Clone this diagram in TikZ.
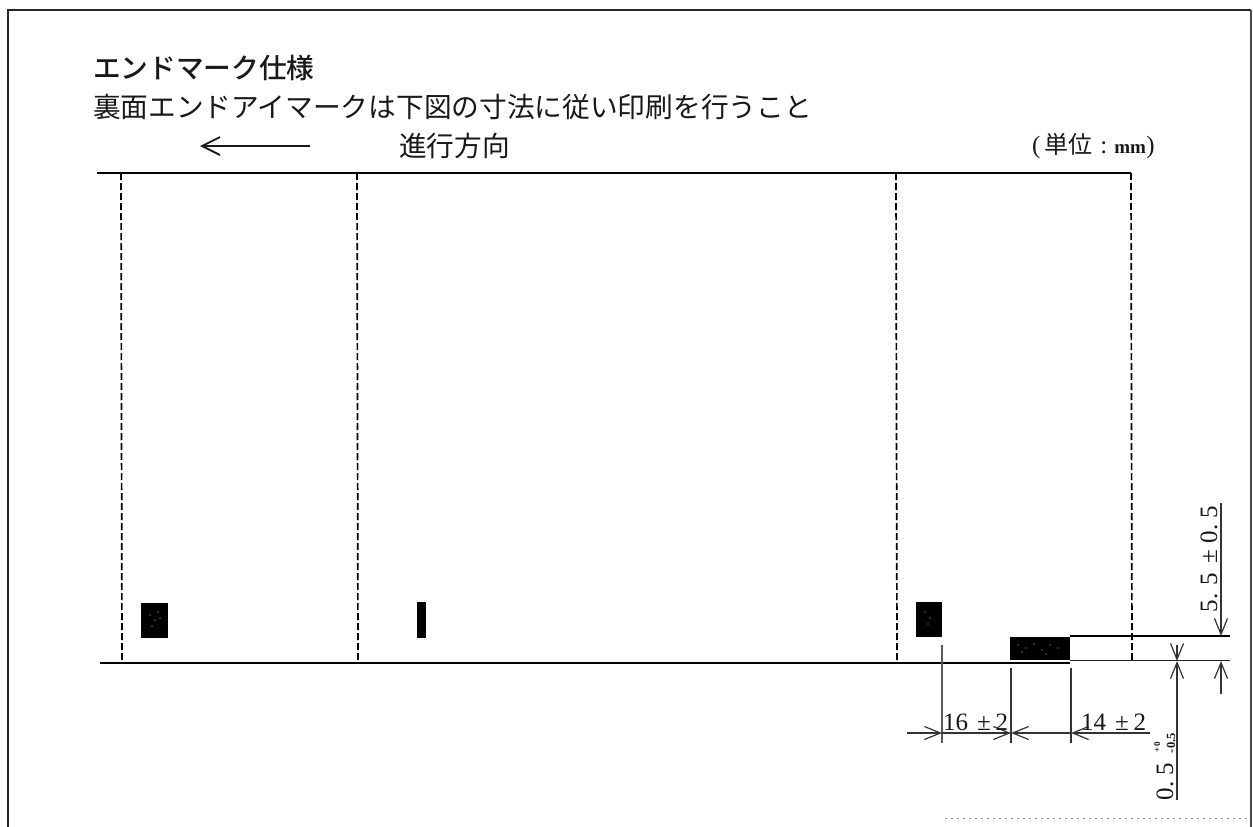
\documentclass[tikz,border=0pt]{standalone}
\usepackage{fontspec}
\setmainfont{Liberation Serif}
\newfontfamily\cjk{Noto Sans CJK JP}
\newfontfamily\cjkb{Noto Sans CJK JP Medium}
\usetikzlibrary{arrows.meta}
\tikzset{
  x=1pt,y=-1pt,
  txt/.style={inner sep=0pt,outer sep=0pt,anchor=west,text=black!90},
  jp/.style={txt,font=\cjk\fontsize{27.7}{30}\selectfont},
  jpb/.style={txt,font=\cjkb\fontsize{27.7}{30}\selectfont},
  num/.style={inner sep=0pt,outer sep=0pt,anchor=base west,text=black!90,font=\fontsize{25}{27}\selectfont},
  tiny/.style={inner sep=0pt,outer sep=0pt,anchor=base west,text=black!90,font=\bfseries\fontsize{9}{10}\selectfont},
  tinyb/.style={tiny,font=\bfseries\fontsize{12.5}{13}\selectfont},
  solidline/.style={draw=black,line width=1.8pt},
  thin line/.style={draw=black!85,line width=1.2pt},
  dashline/.style={draw=black,line width=1.7pt,dash pattern=on 7pt off 3pt},
  frame line/.style={draw=black!85,line width=1.7pt},
  dimline/.style={draw=black!80,line width=1.2pt},
  barb/.style={-{Straight Barb[length=16pt,width=13pt,line width=1.2pt]}},
}
\begin{document}
\begin{tikzpicture}
\useasboundingbox (0,0) rectangle (1253,827);
\fill[white] (0,0) rectangle (1253,827);
% frame
\coordinate (fbl) at (8,827); \coordinate (ftl) at (8,10);
\coordinate (ftr) at (1251,10); \coordinate (fbr) at (1251,827);
\draw[frame line] (fbl) -- (ftl) -- (ftr);
\draw[draw=black!70,line width=1.5pt] (ftr) -- (fbr);
\coordinate (nsa) at (945,818); \coordinate (nsb) at (1250,818);
\draw[draw=black!45,line width=1pt,dash pattern=on 2pt off 4pt] (nsa) -- (nsb);
% texts
\node[jpb] (title) at (93,68) {エンドマーク仕様};
\node[jp] (sub) at (93,107) {裏面エンドアイマークは下図の寸法に従い印刷を行うこと};
\node[jp] (dir) at (399,146) {進行方向};
\node[inner sep=0pt,outer sep=0pt,anchor=base west,text=black!90] (unit) at (1032,153)
  {\fontsize{25}{27}\selectfont (\hspace{4pt}{\cjk\fontsize{24}{26}\selectfont 単位}\hspace{8pt}:\hspace{7pt}{\bfseries\fontsize{19}{20}\selectfont mm}\hspace{0.5pt})};
% direction arrow
\coordinate (da) at (310,146); \coordinate (db) at (200,146);
\draw[draw=black!90,line width=1.8pt,-{Straight Barb[length=18pt,width=18pt,line width=1.8pt]}] (da) -- (db);
% web
\coordinate (tl) at (97,173); \coordinate (tr) at (1131,173);
\coordinate (bl) at (100,663); \coordinate (bm) at (1070,663);
\draw[solidline] (tl) -- (tr);
\draw[solidline] (bl) -- (bm);
% perforations
\foreach \n/\x in {a/121,b/357,c/896,d/1131}{
  \coordinate (p\n t) at (\x,173);
  \coordinate (p\n b) at (\x+1,661);
  \draw[dashline] (p\n t) -- (p\n b);
}
% marks
\fill[black] (141,603) rectangle (168,638);
\fill[black] (417,602) rectangle (426,638);
\fill[black] (916,602) rectangle (942,637);
\fill[black] (1010,637) rectangle (1070,660);
% speckle
\foreach \x/\y in {150/615,155/620,152/626,158/612,160/618,925/612,930/618,928/624,1018/645,1026/648,1034/644,1042/650,1050/645,1058/648,1022/652,1046/654}
  \fill[white!75!black] (\x,\y) circle (0.7);
% end mark extension lines
\coordinate (ea) at (1070,636); \coordinate (eb) at (1230,636);
\coordinate (ec) at (1070,660.5); \coordinate (ed) at (1230,660.5);
\draw[solidline,line width=1.5pt] (ea) -- (eb);
\draw[thin line] (ec) -- (ed);
% horizontal dimension
\coordinate (w1) at (942,645); \coordinate (w2) at (942,743);
\coordinate (w3) at (1011,668); \coordinate (w4) at (1011,743);
\coordinate (w5) at (1071,668); \coordinate (w6) at (1071,743);
\draw[draw=black!65,line width=1.2pt] (w1) -- (w2);
\draw[dimline] (w3) -- (w4);
\draw[dimline] (w5) -- (w6);
\coordinate (h0) at (907,733); \coordinate (h1) at (942,733);
\coordinate (h2) at (1011,733); \coordinate (h3) at (1071,733); \coordinate (h4) at (1150,733);
\draw[dimline,barb] (h0) -- (h1);
\draw[dimline,barb] (h1) -- (h2);
\draw[dimline,barb] (h3) -- (h2);
\draw[dimline,barb] (h4) -- (h3);
\node[num] (d16) at (943,730) {16\hspace{9pt}±\hspace{5pt}2};
\node[num] (d14) at (1081,730) {14\hspace{9pt}±\hspace{5pt}2};
% vertical 0.5
\coordinate (v1) at (1177,645); \coordinate (v2) at (1177,661);
\coordinate (v3) at (1177,800);
\draw[dimline,barb] (v1) -- (v2);
\draw[dimline,barb] (v3) -- (v2);
\node[num,rotate=90] (d05) at (1173,800) {0.\hspace{6pt}5};
\node[tiny,rotate=90] (dp) at (1160,752) {+0};
\node[tinyb,rotate=90] (dm) at (1175,753) {-0.5};
% vertical 5.5
\coordinate (u1) at (1221,503); \coordinate (u2) at (1221,636);
\coordinate (u3) at (1221,694); \coordinate (u4) at (1221,661);
\draw[dimline,barb] (u1) -- (u2);
\draw[dimline,barb] (u3) -- (u4);
\node[num,rotate=90] (d55) at (1217,612) {5.\hspace{8pt}5\hspace{9pt}±\hspace{7pt}0.\hspace{6pt}5};
\end{tikzpicture}
\end{document}
